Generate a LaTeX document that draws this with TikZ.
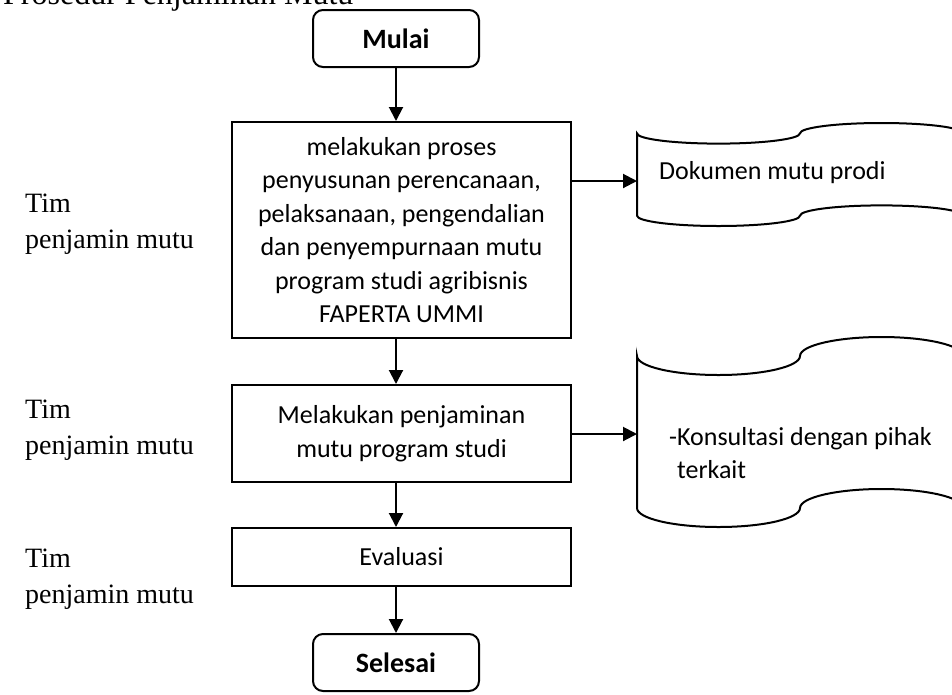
\documentclass[tikz,border=0pt]{standalone}
\usepackage{fontspec}
\setmainfont{Carlito}
\newfontfamily\tnr{Liberation Serif}
\usetikzlibrary{arrows.meta}
\begin{document}
\begin{tikzpicture}[x=1pt,y=-1pt,
  box/.style={draw,line width=2pt,minimum width=339pt,inner sep=0pt,align=center,font=\fontsize{26}{33.5}\selectfont},
  term/.style={draw,line width=2pt,rounded corners=10pt,minimum width=166pt,minimum height=57pt,inner sep=0pt,font=\fontsize{28}{34}\selectfont\bfseries},
  arr/.style={line width=2pt,-{Triangle[length=14pt,width=14pt]}},
  lbl/.style={anchor=base west,inner sep=0pt,font=\fontsize{28}{34}\selectfont\tnr},
  doc/.style={line width=2pt},
  doctext/.style={anchor=west,inner sep=0pt,align=left,font=\fontsize{26}{33}\selectfont}]
\useasboundingbox (0,0) rectangle (952,694);
\clip (0,0) rectangle (952,694);
% title
\node[anchor=base west,inner sep=0pt,font=\fontsize{32}{36}\selectfont\tnr] (title) at (3,4) {Prosedur Penjaminan Mutu};
% main column
\node[term] (m) at (396,38.5) {Mulai};
\node[box,minimum height=216pt] (b1) at (401.5,230) {melakukan proses\\penyusunan perencanaan,\\pelaksanaan, pengendalian\\dan penyempurnaan mutu\\program studi agribisnis\\FAPERTA UMMI};
\node[box,minimum height=97pt] (b2) at (401.5,433.5) {Melakukan penjaminan\\mutu program studi};
\node[box,minimum height=58pt] (ev) at (401.5,557) {Evaluasi};
\node[term] (s) at (396,662.5) {Selesai};
\draw[arr] (m.south) -- (m |- b1.north);
\draw[arr] (m |- b1.south) -- (m |- b2.north);
\draw[arr] (m |- b2.south) -- (m |- ev.north);
\draw[arr] (m |- ev.south) -- (s.north);
% left labels
\node[lbl] (t1) at (25,212) {Tim};
\node[lbl] (p1) at (25,248) {penjamin mutu};
\node[lbl] (t2) at (25,418) {Tim};
\node[lbl] (p2) at (25,454) {penjamin mutu};
\node[lbl] (t3) at (25,567) {Tim};
\node[lbl] (p3) at (25,603) {penjamin mutu};
% document 1 (punched tape)
\draw[doc] (637,133.3) -- (637,215.7)
  arc[start angle=180,end angle=360,x radius=81.5pt,y radius=10.3pt]
  arc[start angle=180,end angle=0,x radius=81.5pt,y radius=10.3pt]
  -- (963,133.3)
  arc[start angle=0,end angle=180,x radius=81.5pt,y radius=10.3pt]
  arc[start angle=0,end angle=-180,x radius=81.5pt,y radius=10.3pt] -- cycle;
\node[doctext] (d1t) at (659,173) {Dokumen mutu prodi};
\coordinate (d1) at (637,181);
% document 2 (punched tape)
\draw[doc] (637,356) -- (637,508)
  arc[start angle=180,end angle=360,x radius=81.5pt,y radius=19pt]
  arc[start angle=180,end angle=0,x radius=81.5pt,y radius=19pt]
  -- (963,356)
  arc[start angle=0,end angle=180,x radius=81.5pt,y radius=19pt]
  arc[start angle=0,end angle=-180,x radius=81.5pt,y radius=19pt] -- cycle;
\node[doctext] (d2t) at (669,453.5) {-Konsultasi dengan pihak\\\hphantom{-}terkait};
\coordinate (d2) at (637,434);
\draw[arr] (b1.east |- d1) -- (d1);
\draw[arr] (b2.east |- d2) -- (d2);
\end{tikzpicture}
\end{document}
